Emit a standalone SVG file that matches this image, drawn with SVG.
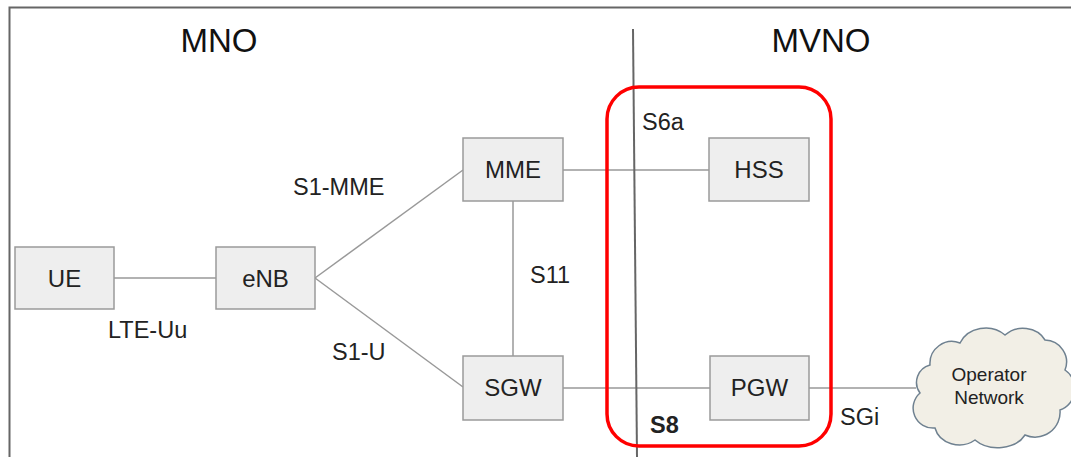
<svg xmlns="http://www.w3.org/2000/svg" width="1071" height="457" viewBox="0 0 1071 457">
<style>
.box{fill:#eeeeee;stroke:#9a9a9a;stroke-width:1.5}
.lbl{font-family:"Liberation Sans",Arial,sans-serif;font-size:23.5px;fill:#222}
.node{font-family:"Liberation Sans",Arial,sans-serif;font-size:24px;fill:#222;text-anchor:middle}
.title{font-family:"Liberation Sans",Arial,sans-serif;font-size:33px;fill:#111;text-anchor:middle}
.conn{stroke:#999;stroke-width:1.5;fill:none}
</style>
<rect width="1071" height="457" fill="#ffffff"/>
<path d="M9.5,457 V7.5 H1071" fill="none" stroke="#666" stroke-width="2"/>
<text class="title" x="219" y="52">MNO</text>
<text class="title" x="821" y="52">MVNO</text>
<g id="connectors">
<line class="conn" x1="114" y1="278" x2="216" y2="278"/>
<line class="conn" x1="315" y1="278" x2="463" y2="170"/>
<line class="conn" x1="315" y1="278" x2="463" y2="387"/>
<line class="conn" x1="563" y1="170" x2="709" y2="170"/>
<line class="conn" x1="513" y1="201" x2="513" y2="356"/>
<line class="conn" x1="563" y1="388" x2="710" y2="388"/>
<line class="conn" x1="809" y1="388" x2="916" y2="388"/>
</g>
<line id="divider" x1="633" y1="29" x2="637" y2="457" stroke="#666" stroke-width="2"/>
<rect id="mvno-highlight" x="607" y="87" width="224" height="359" rx="32" ry="32" fill="none" stroke="#ff0000" stroke-width="3.5"/>
<g id="UE"><rect class="box" x="15" y="247" width="99" height="62"/><text class="node" x="64.5" y="287">UE</text></g>
<g id="eNB"><rect class="box" x="216" y="247" width="99" height="62"/><text class="node" x="265.5" y="287">eNB</text></g>
<g id="MME"><rect class="box" x="463" y="138" width="100" height="63"/><text class="node" x="513" y="178">MME</text></g>
<g id="HSS"><rect class="box" x="709" y="138" width="100" height="63"/><text class="node" x="759" y="178">HSS</text></g>
<g id="SGW"><rect class="box" x="463" y="356" width="100" height="64"/><text class="node" x="513" y="396">SGW</text></g>
<g id="PGW"><rect class="box" x="710" y="356" width="99" height="64"/><text class="node" x="759.5" y="396">PGW</text></g>
<g id="OperatorNetwork">
<path d="M930,365 a22,22 0 0 1 30,-22 a28,25 0 0 1 45,-8 a25,22 0 0 1 40,5 a22,22 0 0 1 20,30 a20,22 0 0 1 -5,40 a25,25 0 0 1 -35,25 a30,22 0 0 1 -50,5 a25,22 0 0 1 -40,-12 a20,20 0 0 1 -15,-35 a18,18 0 0 1 10,-28 Z" fill="#f2efe6" stroke="#6f8190" stroke-width="1.5"/>
<text x="989" y="381" font-family="'Liberation Sans',Arial,sans-serif" font-size="19" fill="#222" text-anchor="middle">Operator</text>
<text x="989" y="404" font-family="'Liberation Sans',Arial,sans-serif" font-size="19" fill="#222" text-anchor="middle">Network</text>
</g>
<text class="lbl" x="108" y="338">LTE-Uu</text>
<text class="lbl" x="293" y="195">S1-MME</text>
<text class="lbl" x="332" y="360">S1-U</text>
<text class="lbl" x="530" y="283">S11</text>
<text class="lbl" x="642" y="130">S6a</text>
<text class="lbl" x="650" y="433" font-weight="bold">S8</text>
<text class="lbl" x="840" y="425">SGi</text>
</svg>
